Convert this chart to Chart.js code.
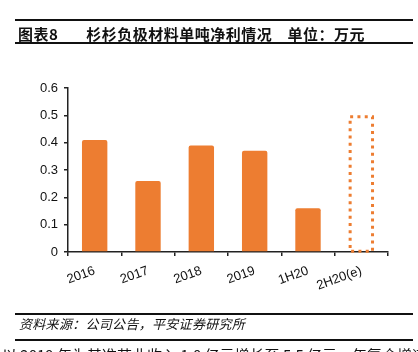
<!DOCTYPE html>
<html>
<head>
<meta charset="utf-8">
<script src="https://cdn.jsdelivr.net/npm/chart.js@4"></script>
<style>
  html, body { margin: 0; padding: 0; background: #fff; }
  body { width: 418px; height: 352px; position: relative; overflow: hidden;
         font-family: "Noto Sans CJK SC", "Liberation Sans", sans-serif; color: #111; }
  .rule { position: absolute; left: 15px; width: 398px; background: #111; }
  .title { position: absolute; left: 18px; top: 24px; font-size: 15px; font-weight: bold;
           letter-spacing: 0.5px; line-height: 20px; white-space: nowrap; }
  .source { position: absolute; left: 19px; top: 315px; font-size: 13px; font-style: italic;
            letter-spacing: 0.3px; line-height: 18px; white-space: nowrap; }
  .cut { position: absolute; left: 2px; top: 344px; font-size: 15px; white-space: nowrap; }
  #wrap { position: absolute; left: 0; top: 0; width: 418px; height: 352px; }
</style>
</head>
<body>
<div id="wrap"><canvas id="myChart" width="418" height="352"></canvas></div>
<div class="rule" style="top:19px;height:2px"></div>
<div class="title">图表8<span style="margin-left:28px">杉杉负极材料单吨净利情况</span><span style="margin-left:15px">单位：万元</span></div>
<div class="rule" style="top:42px;height:2px"></div>
<div class="rule" style="top:313px;height:1.5px"></div>
<div class="source">资料来源：公司公告，平安证券研究所</div>
<div class="rule" style="top:339px;height:1.5px"></div>
<div class="cut">以 2019 年为基准营业收入 1.0 亿元增长至 5.5 亿元，年复合增速</div>
<script>
// data
const categories = ['2016', '2017', '2018', '2019', '1H20', '2H20(e)'];
const netProfitPerTon = [0.41, 0.26, 0.39, 0.37, 0.16, 0.50];
const estimateIndex = 5;
const yMax = 0.6;
const yStep = 0.1;

const orange = '#ED7D31';

// draws the dotted outline of the estimated bar
const dottedBar = {
    id: 'dottedBar',
    afterDatasetsDraw: function(chart) {
        const bar = chart.getDatasetMeta(0).data[estimateIndex];
        if (!bar) return;
        const p = bar.getProps(['x', 'y', 'base', 'width'], true);
        const ctx = chart.ctx;
        ctx.save();
        ctx.strokeStyle = orange;
        ctx.lineWidth = 3;
        ctx.setLineDash([3, 4.3]);
        ctx.strokeRect(p.x - p.width / 2 + 1.5, p.y + 1.5, p.width - 3, p.base - p.y - 1.5);
        ctx.restore();
    }
};

const ctx = document.getElementById('myChart');
const myChart = new Chart(ctx, {
    type: 'bar',
    data: {
        labels: categories,
        datasets: [{
            data: netProfitPerTon,
            backgroundColor: categories.map((c, i) => i === estimateIndex ? 'rgba(0,0,0,0)' : orange),
            borderWidth: 0,
            borderRadius: 2,
            borderSkipped: 'bottom',
            barPercentage: 0.476,
            categoryPercentage: 1
        }]
    },
    options: {
        responsive: false,
        animation: false,
        devicePixelRatio: 1,
        layout: { padding: { left: 18, right: 30, top: 88, bottom: 52 } },
        plugins: {
            legend: { display: false },
            tooltip: { enabled: false }
        },
        scales: {
            x: {
                grid: { offset: true, drawOnChartArea: false, drawTicks: true, tickLength: 4, color: '#222', lineWidth: 1.5 },
                border: { display: true, color: '#222', width: 1.5 },
                ticks: {
                    color: '#111',
                    font: { family: 'Liberation Sans, Arial', size: 13 },
                    minRotation: 20,
                    maxRotation: 20,
                    autoSkip: false,
                    padding: 7
                },
                afterFit: function(scale) { scale.height = 48; }
            },
            y: {
                min: 0,
                max: yMax,
                ticks: {
                    stepSize: yStep,
                    color: '#111',
                    font: { family: 'Liberation Sans, Arial', size: 13 },
                    padding: 6
                },
                grid: { drawOnChartArea: false, drawTicks: true, tickLength: 4, color: '#222', lineWidth: 1.5 },
                border: { display: true, color: '#222', width: 1.5 },
                afterFit: function(scale) { scale.width = 50; }
            }
        }
    },
    plugins: [dottedBar]
});
</script>
</body>
</html>
